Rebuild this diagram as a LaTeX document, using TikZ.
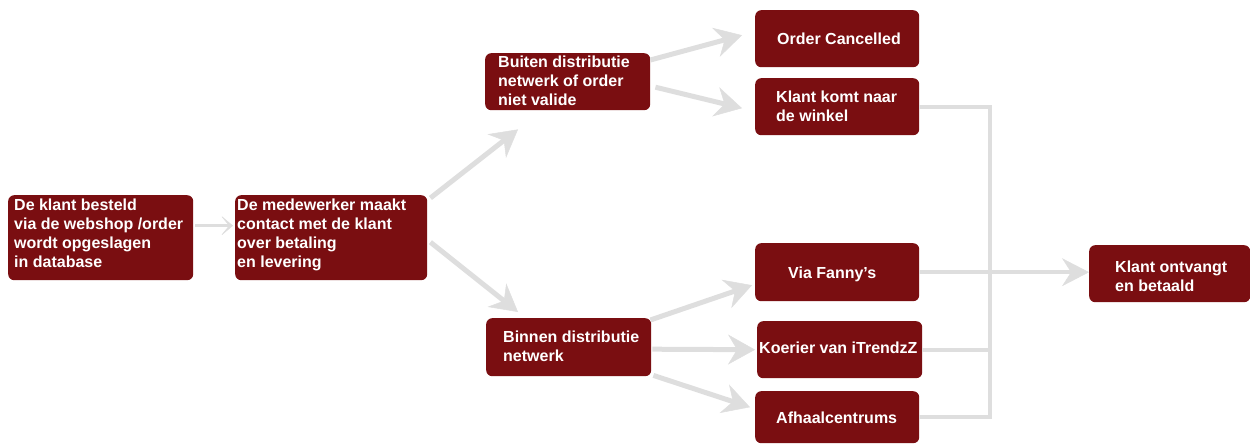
\documentclass[tikz,border=0pt]{standalone}
\usepackage{fontspec}
\setmainfont{Liberation Sans}
\usetikzlibrary{arrows.meta,calc}
\definecolor{boxred}{RGB}{122,14,17}
\definecolor{linegray}{RGB}{222,222,222}
\newcommand\boxtext[1]{\begin{tabular}[t]{@{}l@{}}#1\end{tabular}}
\tikzset{
  stepbox/.style={fill=boxred, draw=none, rounded corners=6pt, inner sep=0pt, anchor=north west},
  lbl/.style={anchor=base west, inner sep=0pt, text=white, font=\bfseries\fontsize{16}{19}\selectfont},
  conn/.style={draw=linegray, line width=4pt},
  bigarrow/.style={draw=linegray, line width=5pt,
    -{Stealth[length=27pt,width=30pt,inset=9pt,line width=0.5pt]}},
  midarrow/.style={draw=linegray, line width=4pt,
    -{Stealth[length=27pt,width=28pt,inset=9pt,line width=0.5pt]}},
  smallarrow/.style={draw=linegray, line width=3pt,
    -{Stealth[length=13pt,width=22pt,inset=9pt,line width=0.5pt]}},
}
\begin{document}
\begin{tikzpicture}[x=1pt,y=-1pt]
\useasboundingbox (0,0) rectangle (1250,444);

% boxes
\node[stepbox, minimum width=185pt, minimum height=85pt] (b1) at (8,195) {};
\node[stepbox, minimum width=192pt, minimum height=85pt] (b2) at (235,195) {};
\node[stepbox, minimum width=165pt, minimum height=57pt] (buiten) at (485,53) {};
\node[stepbox, minimum width=165pt, minimum height=58pt] (binnen) at (486,318) {};
\node[stepbox, minimum width=164pt, minimum height=57pt] (order) at (755,10) {};
\node[stepbox, minimum width=164pt, minimum height=57pt] (kkomt) at (755,78) {};
\node[stepbox, minimum width=164pt, minimum height=58pt] (fanny) at (755,243) {};
\node[stepbox, minimum width=165pt, minimum height=57pt] (koerier) at (757,321) {};
\node[stepbox, minimum width=164pt, minimum height=52pt] (afhaal) at (755,391) {};
\node[stepbox, minimum width=161pt, minimum height=57pt] (ontvangt) at (1089,245) {};

% texts
\node[lbl] (t1) at (14,210) {\boxtext{De klant besteld\\via de webshop /order\\wordt opgeslagen\\in database}};
\node[lbl] (t2) at (237,210) {\boxtext{De medewerker maakt\\contact met de klant\\over betaling\\en levering}};
\node[lbl] (tbuiten) at (498,67) {\boxtext{Buiten distributie\\netwerk of order\\niet valide}};
\node[lbl] (tbinnen) at (503,342) {\boxtext{Binnen distributie\\netwerk}};
\node[lbl] (torder) at (777,45) {Order Cancelled};
\node[lbl] (tkkomt) at (776,102) {\boxtext{Klant komt naar\\de winkel}};
\node[lbl] (tfanny) at (788,278) {Via Fanny’s};
\node[lbl] (tkoerier) at (759,353) {Koerier van iTrendzZ};
\node[lbl] (tafhaal) at (776,423) {Afhaalcentrums};
\node[lbl] (tontvangt) at (1115,272) {\boxtext{Klant ontvangt\\en betaald}};

% flow arrows
\draw[smallarrow] ($(b1.east)+(2,-12)$) -- ($(b2.west)+(-2,-12)$);
\draw[bigarrow] ($(b2.north east)+(3,3)$) -- ($(buiten.south west)+(33,19)$);
\draw[bigarrow] ($(b2.east)+(3,4.5)$) -- ($(binnen.north west)+(32,-6)$);
\draw[bigarrow] ($(buiten.north east)+(0,7)$) -- ($(order.west)+(-13,-3.5)$);
\draw[bigarrow] ($(buiten.east)+(5,5.5)$) -- ($(kkomt.west)+(-13,1.5)$);
\draw[bigarrow] ($(binnen.north east)+(-1,2)$) -- ($(fanny.west)+(-3,13)$);
\draw[bigarrow] ($(binnen.east)+(1,2)$) -- ($(koerier.west)+(-2,0)$);
\draw[bigarrow] ($(binnen.south east)+(2,-1)$) -- ($(afhaal.west)+(-5,-10)$);

% collecting bus towards the customer
\coordinate (bus) at (990,0);
\draw[conn] (kkomt.east) -| (bus |- afhaal.east) -- (afhaal.east);
\draw[conn] (koerier.east) -- (koerier.east -| bus);
\draw[midarrow] (fanny.east) -- (fanny.east -| ontvangt.west);
\end{tikzpicture}
\end{document}
